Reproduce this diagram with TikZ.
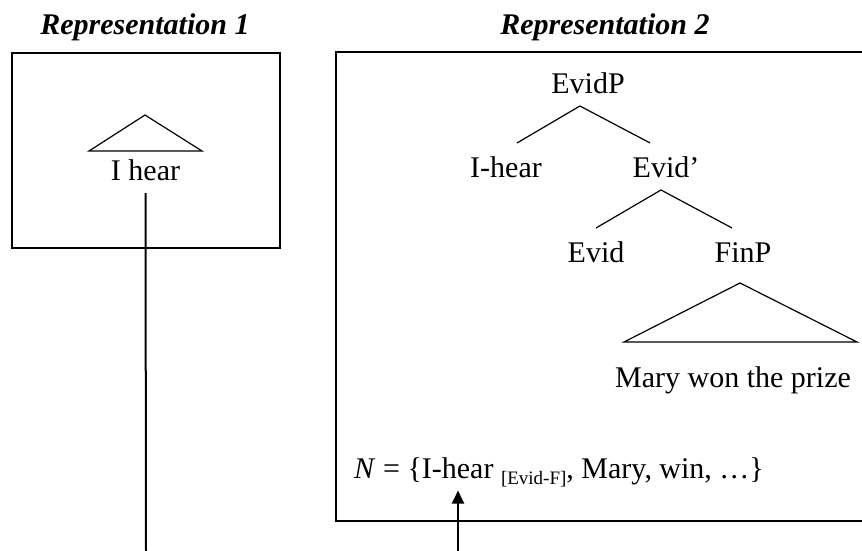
\documentclass[tikz,border=0pt]{standalone}
\usepackage{fontspec}
\setmainfont{Liberation Serif}
\usetikzlibrary{arrows.meta}
\tikzset{
    word/.style={font=\fontsize{30}{36}\selectfont, inner sep=0pt, anchor=base},
    cat/.style={word, text height=21pt, text depth=0pt, outer xsep=0pt, outer ysep=13pt},
    title/.style={word, font=\fontsize{30}{36}\selectfont\bfseries\itshape},
    frame/.style={line width=1.5pt},
    branch/.style={line width=1.2pt}
}
\begin{document}
\begin{tikzpicture}[x=1pt, y=-1pt]
        \useasboundingbox (0,0) rectangle (862,551);
        % Representation 1
        \node[title] (title1) at (145,35) {Representation 1};
        \draw[frame] (12,53) rectangle (280,248);
        \draw[branch] (89,151)--(145,115)--(202,151)--cycle;
        \node[cat] (ihear1) at (145.5,180) {I hear};
        \coordinate (foot1) at (146,551);
        \draw[line width=2pt] (ihear1.south)--(foot1);
        % Representation 2
        \node[title] (title2) at (605,35) {Representation 2};
        \draw[frame] (862,52)--(336,52)--(336,521)--(862,521);
        \node[cat] (evidp) at (588,93) {EvidP};
        \node[cat] (ihear2) at (506,177) {I-hear};
        \node[cat] (evidbar) at (666,177) {Evid’};
        \node[cat] (evid) at (596,262) {Evid};
        \node[cat] (finp) at (743,262) {FinP};
        \draw[branch] (ihear2.65)--(evidp.-109)--(evidbar.124);
        \draw[branch] (evid.north)--(evidbar.-102)--(finp.115);
        \draw[branch] (624,342)--(740,283)--(857,342)--cycle;
        \node[word] (mary) at (733,387) {Mary won the prize};
        \node[word, anchor=base west, outer ysep=4pt] (nline) at (354,478)
            {\textit{N} = \{I-hear \raisebox{-6pt}{\fontsize{19}{19}\selectfont [Evid-F]}, Mary, win, …\}};
        \coordinate (foot2) at (458,551);
        \draw[line width=2pt, -{Triangle[length=13pt,width=12pt]}] (foot2)--(nline.south -| foot2);
\end{tikzpicture}
\end{document}
